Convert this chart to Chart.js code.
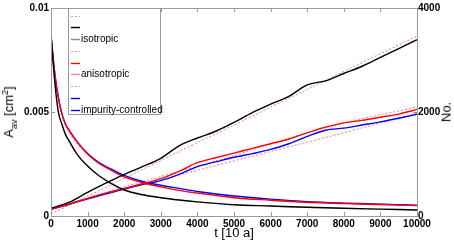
<!DOCTYPE html>
<html>
<head>
<meta charset="utf-8">
<script src="https://cdn.jsdelivr.net/npm/chart.js@4.4.1/dist/chart.umd.min.js"></script>
<style>
  html, body { margin: 0; padding: 0; background: #fff; }
  #wrap { position: relative; width: 454px; height: 242px; }
  #chart { position: absolute; left: 0; top: 0; }
  .lbl { position: absolute; font-family: "Liberation Sans", Arial, sans-serif; font-size: 13px; color: #000; white-space: nowrap; line-height: 1; }
  .lbl sub, .lbl sup { font-size: 9px; }
</style>
</head>
<body>
<div id="wrap">
  <canvas id="chart" width="454" height="242"></canvas>
  <div class="lbl" id="ytitle">A<sub>av</sub> [cm<sup>2</sup>]</div>
  <div class="lbl" id="xtitle">t [10 a]</div>
  <div class="lbl" id="y2title">No.</div>
</div>
<script>
// time axis ticks and scales
const xTicks = [0, 1000, 2000, 3000, 4000, 5000, 6000, 7000, 8000, 9000, 10000];
const areaTicks = [0, 0.005, 0.01];
const countTicks = [0, 2000, 4000];

// average grain area, A_av [cm^2]
const tArea = [0, 100, 200, 300, 400, 500, 700, 1000, 1300, 1650, 2000, 2500, 3000, 3500, 4000, 5000, 6000, 7000, 8000, 9000, 10000];
const isoArea = [0.0087, 0.0065, 0.0050, 0.0044, 0.0039, 0.0036, 0.0030, 0.0024, 0.00195, 0.00156, 0.00125, 0.00102, 0.00088, 0.00077, 0.00068, 0.00054, 0.00048, 0.00042, 0.00037, 0.00033, 0.00029];
const anisoArea = [0.0087, 0.0069, 0.0057, 0.0049, 0.0044, 0.0041, 0.0036, 0.00298, 0.00255, 0.0022, 0.00188, 0.0016, 0.0014, 0.00123, 0.0011, 0.00088, 0.00076, 0.00066, 0.0006, 0.00055, 0.0005];
const impArea = [0.0087, 0.0069, 0.0057, 0.0049, 0.0044, 0.0041, 0.0036, 0.0030, 0.00258, 0.00225, 0.00195, 0.00166, 0.00148, 0.00133, 0.00118, 0.00096, 0.00081, 0.00069, 0.00062, 0.00057, 0.00052];
const isoAreaFit = [0.0087, 0.0066, 0.0051, 0.0044, 0.0039, 0.0035, 0.0030, 0.0024, 0.00196, 0.00158, 0.00128, 0.00104, 0.00089, 0.00077, 0.00068, 0.00055, 0.00047, 0.00041, 0.00036, 0.00032, 0.00029];
const anisoAreaFit = [0.0087, 0.0068, 0.0057, 0.0049, 0.0044, 0.0040, 0.0035, 0.00295, 0.00252, 0.00217, 0.00188, 0.00159, 0.00139, 0.00123, 0.0011, 0.0009, 0.00077, 0.00067, 0.0006, 0.00055, 0.0005];

// number of grains, No.
const tCount = [0, 500, 1000, 1500, 2000, 2500, 3000, 3500, 4000, 4500, 5000, 5500, 6000, 6500, 7000, 7500, 8000, 8500, 9000, 9500, 10000];
const isoCount = [147, 265, 455, 630, 800, 950, 1110, 1350, 1500, 1630, 1800, 1990, 2150, 2300, 2520, 2600, 2740, 2880, 3050, 3220, 3390];
const anisoCount = [128, 230, 340, 440, 530, 620, 720, 860, 1025, 1120, 1210, 1300, 1390, 1480, 1600, 1710, 1790, 1840, 1900, 1960, 2050];
const impCount = [128, 225, 330, 425, 520, 605, 680, 800, 950, 1040, 1130, 1200, 1280, 1390, 1530, 1650, 1690, 1750, 1810, 1880, 1956];
const isoCountFit = [40, 210, 380, 550, 725, 895, 1065, 1240, 1410, 1580, 1750, 1920, 2095, 2265, 2435, 2605, 2780, 2950, 3120, 3290, 3460];
const anisoCountFit = [128, 240, 350, 455, 560, 660, 760, 860, 960, 1060, 1160, 1275, 1390, 1495, 1600, 1695, 1790, 1870, 1950, 2020, 2095];
const impCountFit = [128, 230, 330, 425, 520, 610, 700, 790, 880, 970, 1060, 1150, 1240, 1330, 1420, 1510, 1600, 1695, 1790, 1885, 1980];

const legendItems = [
  { text: "", color: "rgba(255,0,0,0.45)", dash: [2, 2] },
  { text: "", color: "#000000", dash: [] },
  { text: "isotropic", color: "#8c8c8c", dash: [] },
  { text: "", color: "rgba(255,0,0,0.45)", dash: [2, 2] },
  { text: "", color: "#ff0000", dash: [] },
  { text: "anisotropic", color: "#ff8a8a", dash: [] },
  { text: "", color: "rgba(255,0,0,0.45)", dash: [2, 2] },
  { text: "", color: "#0000ff", dash: [] },
  { text: "impurity-controlled", color: "#0000ff", dash: [] },
];

function pts(ts, vs) {
  return ts.map((t, i) => ({ x: t, y: vs[i] }));
}

function line(data, color, axis, dashed) {
  return {
    data: data,
    yAxisID: axis,
    borderColor: color,
    borderWidth: dashed ? 1 : 1.4,
    borderDash: dashed ? [2, 2] : [],
    pointRadius: 0,
    fill: false,
    cubicInterpolationMode: "monotone",
  };
}

const fitColor = "rgba(255,0,0,0.55)";

const frame = {
  id: "frame",
  afterDatasetsDraw(chart) {
    const ctx = chart.ctx;
    const a = chart.chartArea;
    const sx = chart.scales.x, sy = chart.scales.y, sy2 = chart.scales.y2;
    ctx.save();
    ctx.strokeStyle = "#9a9a9a";
    ctx.lineWidth = 1;
    ctx.strokeRect(Math.round(a.left) + 0.5, Math.round(a.top) + 0.5, Math.round(a.right - a.left), Math.round(a.bottom - a.top));
    ctx.beginPath();
    xTicks.forEach(v => {
      const px = Math.round(sx.getPixelForValue(v)) + 0.5;
      ctx.moveTo(px, a.bottom); ctx.lineTo(px, a.bottom - 4);
      ctx.moveTo(px, a.top); ctx.lineTo(px, a.top + 4);
    });
    areaTicks.forEach(v => {
      const py = Math.round(sy.getPixelForValue(v)) + 0.5;
      ctx.moveTo(a.left, py); ctx.lineTo(a.left + 4, py);
    });
    countTicks.forEach(v => {
      const py = Math.round(sy2.getPixelForValue(v)) + 0.5;
      ctx.moveTo(a.right, py); ctx.lineTo(a.right - 4, py);
    });
    ctx.stroke();
    ctx.restore();
  },
  afterDraw(chart) {
    const ctx = chart.ctx;
    const a = chart.chartArea;
    const bx = a.left + 17, by = a.top, bw = 92, bh = 106;
    ctx.save();
    ctx.fillStyle = "#fff";
    ctx.fillRect(bx, by, bw, bh);
    ctx.strokeStyle = "#9a9a9a";
    ctx.lineWidth = 1;
    ctx.strokeRect(Math.round(bx) + 0.5, Math.round(by) + 0.5, bw, bh);
    ctx.font = "10px 'Liberation Sans', Arial, sans-serif";
    ctx.textBaseline = "middle";
    ctx.fillStyle = "#000";
    legendItems.forEach((it, i) => {
      const y = Math.round(by + 7.5 + i * 11.75) + 0.5;
      ctx.beginPath();
      ctx.strokeStyle = it.color;
      ctx.setLineDash(it.dash);
      ctx.lineWidth = it.dash.length ? 1 : 1.4;
      ctx.moveTo(bx + 3, y); ctx.lineTo(bx + 12, y);
      ctx.stroke();
      ctx.setLineDash([]);
      if (it.text) ctx.fillText(it.text, bx + 13, y);
    });
    ctx.restore();
  },
};

const tickFont = { family: "'Liberation Sans', Arial, sans-serif", size: 10, weight: "bold" };

new Chart(document.getElementById("chart"), {
  type: "line",
  data: {
    datasets: [
      line(pts(tArea, isoArea), "#000000", "y", false),
      line(pts(tCount, isoCount), "#000000", "y2", false),
      line(pts(tArea, anisoArea), "#ff0000", "y", false),
      line(pts(tCount, anisoCount), "#ff0000", "y2", false),
      line(pts(tArea, impArea), "#0000ff", "y", false),
      line(pts(tCount, impCount), "#0000ff", "y2", false),
      line(pts(tArea, isoAreaFit), fitColor, "y", true),
      line(pts(tArea, anisoAreaFit), fitColor, "y", true),
      line(pts(tCount, isoCountFit), fitColor, "y2", true),
      line(pts(tCount, anisoCountFit), fitColor, "y2", true),
      line(pts(tCount, impCountFit), fitColor, "y2", true),
    ],
  },
  options: {
    responsive: false,
    animation: false,
    layout: { padding: { top: 6, left: 0, right: 0, bottom: 0 } },
    plugins: { legend: { display: false }, tooltip: { enabled: false } },
    scales: {
      x: {
        type: "linear", min: 0, max: 10000,
        afterBuildTicks: s => { s.ticks = xTicks.map(v => ({ value: v })); },
        afterFit: s => { s.height = 26; },
        grid: { display: false, drawTicks: false },
        border: { display: false },
        ticks: { color: "#000", font: tickFont, padding: 2, maxRotation: 0, autoSkip: false, callback: v => String(v) },
      },
      y: {
        position: "left", min: 0, max: 0.01,
        afterBuildTicks: s => { s.ticks = areaTicks.map(v => ({ value: v })); },
        afterFit: s => { s.width = 51; },
        grid: { display: false, drawTicks: false },
        border: { display: false },
        ticks: { color: "#000", font: tickFont, padding: 2, callback: v => String(+v.toFixed(3)) },
      },
      y2: {
        position: "right", min: 0, max: 4000,
        afterBuildTicks: s => { s.ticks = countTicks.map(v => ({ value: v })); },
        afterFit: s => { s.width = 37; },
        grid: { display: false, drawTicks: false },
        border: { display: false },
        ticks: { color: "#000", font: tickFont, padding: 1, callback: v => String(v) },
      },
    },
  },
  plugins: [frame],
});

// axis titles placed around the chart area
const ca = Chart.getChart("chart").chartArea;
const yt = document.getElementById("ytitle");
yt.style.left = "10px"; yt.style.top = ((ca.top + ca.bottom) / 2) + "px";
yt.style.transform = "translate(-50%, -50%) rotate(-90deg)";
const y2t = document.getElementById("y2title");
y2t.style.left = "446px"; y2t.style.top = ((ca.top + ca.bottom) / 2) + "px";
y2t.style.transform = "translate(-50%, -50%) rotate(-90deg)";
const xt = document.getElementById("xtitle");
xt.style.left = ((ca.left + ca.right) / 2) + "px"; xt.style.top = "232px";
xt.style.transform = "translate(-50%, -50%)";
</script>
</body>
</html>
